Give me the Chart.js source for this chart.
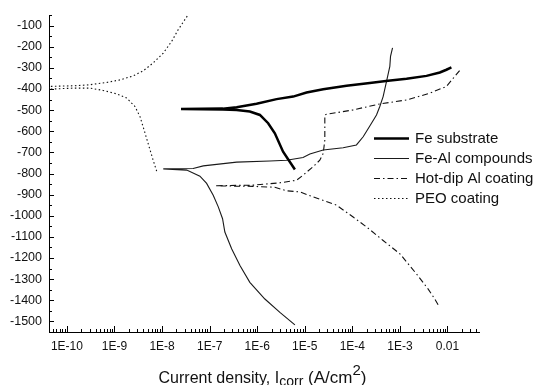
<!DOCTYPE html>
<html>
<head>
<meta charset="utf-8">
<script src="https://cdn.jsdelivr.net/npm/chart.js@4.4.1/dist/chart.umd.min.js"></script>
<style>
  html, body { margin: 0; padding: 0; background: #fff; }
  #wrap { width: 539px; height: 385px; }
</style>
</head>
<body>
<div id="wrap"><canvas id="chart" width="539" height="385"></canvas></div>
<script>
// values: current density (A/cm2) against potential (mV)
// each curve runs from the cathodic end, through Ecorr, to the anodic end
const feSubCurrent = [6.2e-6, 3.5e-6, 2.35e-6, 1.7e-6, 1.14e-6, 7.0e-7, 3.7e-7, 1.9e-7, 2.5e-8, 1.9e-7, 3.7e-7, 9.7e-7, 2.56e-6, 5.7e-6, 1.09e-5, 2.44e-5, 7.55e-5, 2.33e-4, 5.65e-4, 1.38e-3, 3.62e-3, 6.9e-3, 9.5e-3, 1.21e-2];
const feSubPotential = [-781, -697, -610, -562, -523, -507, -499, -497, -495, -493, -486, -470, -448, -436, -417, -401, -385, -372, -361, -352, -338, -322, -309, -298];

const feAlCurrent = [6.2e-6, 3.0e-6, 1.45e-6, 7.0e-7, 4.34e-7, 2.9e-7, 2.09e-7, 1.87e-7, 1.52e-7, 1.19e-7, 8.65e-8, 6.25e-8, 3.3e-8, 1.06e-8, 4.5e-8, 7.35e-8, 3.7e-7, 1.85e-6, 4.15e-6, 9.2e-6, 1.28e-5, 2.44e-5, 6.4e-5, 1.22e-4, 1.69e-4, 2.33e-4, 3.22e-4, 3.78e-4, 4.44e-4, 5.22e-4, 6.14e-4, 6.35e-4, 7.0e-4];
const feAlPotential = [-1516, -1457, -1394, -1315, -1235, -1156, -1077, -1014, -958, -903, -847, -813, -784, -778, -776, -764, -746, -741, -737, -724, -708, -689, -678, -665, -626, -575, -523, -483, -436, -365, -293, -246, -206];

const hotDipCurrent = [6.35e-3, 5.4e-3, 3.9e-3, 2.23e-3, 1.0e-3, 4.44e-4, 1.99e-4, 1.04e-4, 4.66e-5, 1.5e-5, 7.9e-6, 4.15e-6, 2.35e-6, 8.1e-7, 1.29e-7, 8.2e-7, 3.0e-6, 6.7e-6, 9.2e-6, 1.5e-5, 2.07e-5, 2.44e-5, 2.64e-5, 2.64e-5, 2.87e-5, 1.04e-4, 3.78e-4, 1.38e-3, 4.25e-3, 9.5e-3, 1.42e-2, 1.81e-2];
const hotDipPotential = [-1421, -1394, -1346, -1275, -1180, -1117, -1053, -1006, -950, -911, -887, -882, -865, -861, -858, -855, -844, -832, -808, -768, -737, -705, -642, -523, -520, -499, -471, -452, -420, -388, -341, -312];

const peoCurrent = [7.7e-9, 6.5e-9, 5.6e-9, 4.4e-9, 3.44e-9, 2.7e-9, 1.8e-9, 1.11e-9, 5.8e-10, 3.05e-10, 1.36e-10, 4.2e-11, 4.2e-11, 1.36e-10, 3.05e-10, 6.9e-10, 1.31e-9, 2.48e-9, 4.03e-9, 6.5e-9, 1.06e-8, 1.59e-8, 2.19e-8, 3.55e-8];
const peoPotential = [-789, -737, -689, -610, -531, -483, -443, -423, -407, -396, -396, -401, -388, -385, -380, -369, -357, -338, -314, -277, -230, -175, -119, -48];

const seriesNames = ['Fe substrate', 'Fe-Al compounds', 'Hot-dip Al coating', 'PEO coating'];

const xTickValues = [1e-10, 1e-9, 1e-8, 1e-7, 1e-6, 1e-5, 1e-4, 1e-3, 1e-2];
const xTickLabels = ['1E-10', '1E-9', '1E-8', '1E-7', '1E-6', '1E-5', '1E-4', '1E-3', '0.01'];
const yTickValues = [-100, -200, -300, -400, -500, -600, -700, -800, -900, -1000, -1100, -1200, -1300, -1400, -1500];
const yTickLabels = ['-100', '-200', '-300', '-400', '-500', '-600', '-700', '-800', '-900', '-1000', '-1100', '-1200', '-1300', '-1400', '-1500'];

const FONT = "'Liberation Sans', Arial, sans-serif";

const toPoints = (xs, ys) => xs.map((x, i) => ({ x: x, y: ys[i] }));

// inward tick marks, legend and the axis title with sub/superscript
const decorPlugin = {
  id: 'decor',
  afterDraw(chart) {
    const { ctx, chartArea, scales } = chart;
    const xs = scales.x, ys = scales.y;
    ctx.save();
    ctx.strokeStyle = '#000';
    ctx.lineWidth = 1;
    ctx.beginPath();
    for (let d = -11; d <= -2; d++) {
      for (let m = 1; m <= 9; m++) {
        const v = m * Math.pow(10, d);
        if (v < xs.min || v > xs.max) continue;
        const px = Math.round(xs.getPixelForValue(v)) + 0.5;
        const len = m === 1 ? 6 : 3;
        ctx.moveTo(px, chartArea.bottom);
        ctx.lineTo(px, chartArea.bottom - len);
      }
    }
    for (let v = -1550; v <= -50; v += 50) {
      const py = Math.round(ys.getPixelForValue(v)) + 0.5;
      const len = v % 100 === 0 ? 5 : 3;
      ctx.moveTo(chartArea.left, py);
      ctx.lineTo(chartArea.left + len, py);
    }
    ctx.stroke();

    // legend
    const rowY = [138, 158, 178, 198];
    chart.data.datasets.forEach((ds, i) => {
      ctx.beginPath();
      ctx.strokeStyle = ds.borderColor;
      ctx.lineWidth = ds.borderWidth;
      ctx.setLineDash(ds.borderDash || []);
      ctx.moveTo(374, rowY[i] + 0.5);
      ctx.lineTo(409, rowY[i] + 0.5);
      ctx.stroke();
      ctx.setLineDash([]);
      ctx.fillStyle = '#111';
      ctx.font = '15px ' + FONT;
      ctx.textAlign = 'left';
      ctx.textBaseline = 'middle';
      ctx.fillText(seriesNames[i], 415, rowY[i] + 1);
    });

    // x axis title: Current density, I_corr (A/cm^2)
    const parts = [
      { t: 'Current density, I', size: 16, dy: 0 },
      { t: 'corr', size: 14, dy: 3 },
      { t: ' (A/cm', size: 17, dy: 0 },
      { t: '2', size: 15, dy: -8 },
      { t: ')', size: 17, dy: 0 }
    ];
    let total = 0;
    parts.forEach(p => {
      ctx.font = p.size + 'px ' + FONT;
      p.w = ctx.measureText(p.t).width;
      total += p.w;
    });
    let cx = 262.5 - total / 2;
    const base = 383;
    ctx.fillStyle = '#111';
    ctx.textBaseline = 'alphabetic';
    parts.forEach(p => {
      ctx.font = p.size + 'px ' + FONT;
      ctx.fillText(p.t, cx, base + p.dy);
      cx += p.w;
    });
    ctx.restore();
  }
};

new Chart(document.getElementById('chart'), {
  type: 'line',
  data: {
    datasets: [
      {
        label: seriesNames[0],
        data: toPoints(feSubCurrent, feSubPotential),
        borderColor: '#000',
        borderWidth: 2.5
      },
      {
        label: seriesNames[1],
        data: toPoints(feAlCurrent, feAlPotential),
        borderColor: '#1a1a1a',
        borderWidth: 1.1
      },
      {
        label: seriesNames[2],
        data: toPoints(hotDipCurrent, hotDipPotential),
        borderColor: '#111',
        borderWidth: 1.1,
        borderDash: [6, 3, 1.5, 3]
      },
      {
        label: seriesNames[3],
        data: toPoints(peoCurrent, peoPotential),
        borderColor: '#111',
        borderWidth: 1.1,
        borderDash: [1.5, 2.5]
      }
    ]
  },
  options: {
    responsive: false,
    animation: false,
    events: [],
    devicePixelRatio: 1,
    layout: { padding: { left: 0, top: 15, right: 60, bottom: 0 } },
    elements: {
      line: { tension: 0, fill: false },
      point: { radius: 0 }
    },
    plugins: {
      legend: { display: false },
      tooltip: { enabled: false }
    },
    scales: {
      x: {
        type: 'logarithmic',
        min: 4.2e-11,
        max: 0.046,
        afterBuildTicks: (scale) => {
          scale.ticks = xTickValues.map(v => ({ value: v }));
        },
        afterFit: (scale) => { scale.height = 53; },
        grid: { display: false, drawTicks: false },
        border: { display: true, color: '#000', width: 1 },
        ticks: {
          autoSkip: false,
          maxRotation: 0,
          padding: 7,
          color: '#111',
          font: { family: FONT, size: 12 },
          callback: (value) => {
            const i = xTickValues.findIndex(v => Math.abs(Math.log10(v) - Math.log10(value)) < 1e-6);
            return i >= 0 ? xTickLabels[i] : '';
          }
        }
      },
      y: {
        type: 'linear',
        min: -1550,
        max: -50,
        afterBuildTicks: (scale) => {
          scale.ticks = yTickValues.map(v => ({ value: v }));
        },
        afterFit: (scale) => { scale.width = 49; },
        grid: { display: false, drawTicks: false },
        border: { display: true, color: '#000', width: 1 },
        ticks: {
          autoSkip: false,
          padding: 7,
          color: '#111',
          font: { family: FONT, size: 12.5 },
          callback: (value) => {
            const i = yTickValues.indexOf(value);
            return i >= 0 ? yTickLabels[i] : '';
          }
        }
      }
    }
  },
  plugins: [decorPlugin]
});
</script>
</body>
</html>
